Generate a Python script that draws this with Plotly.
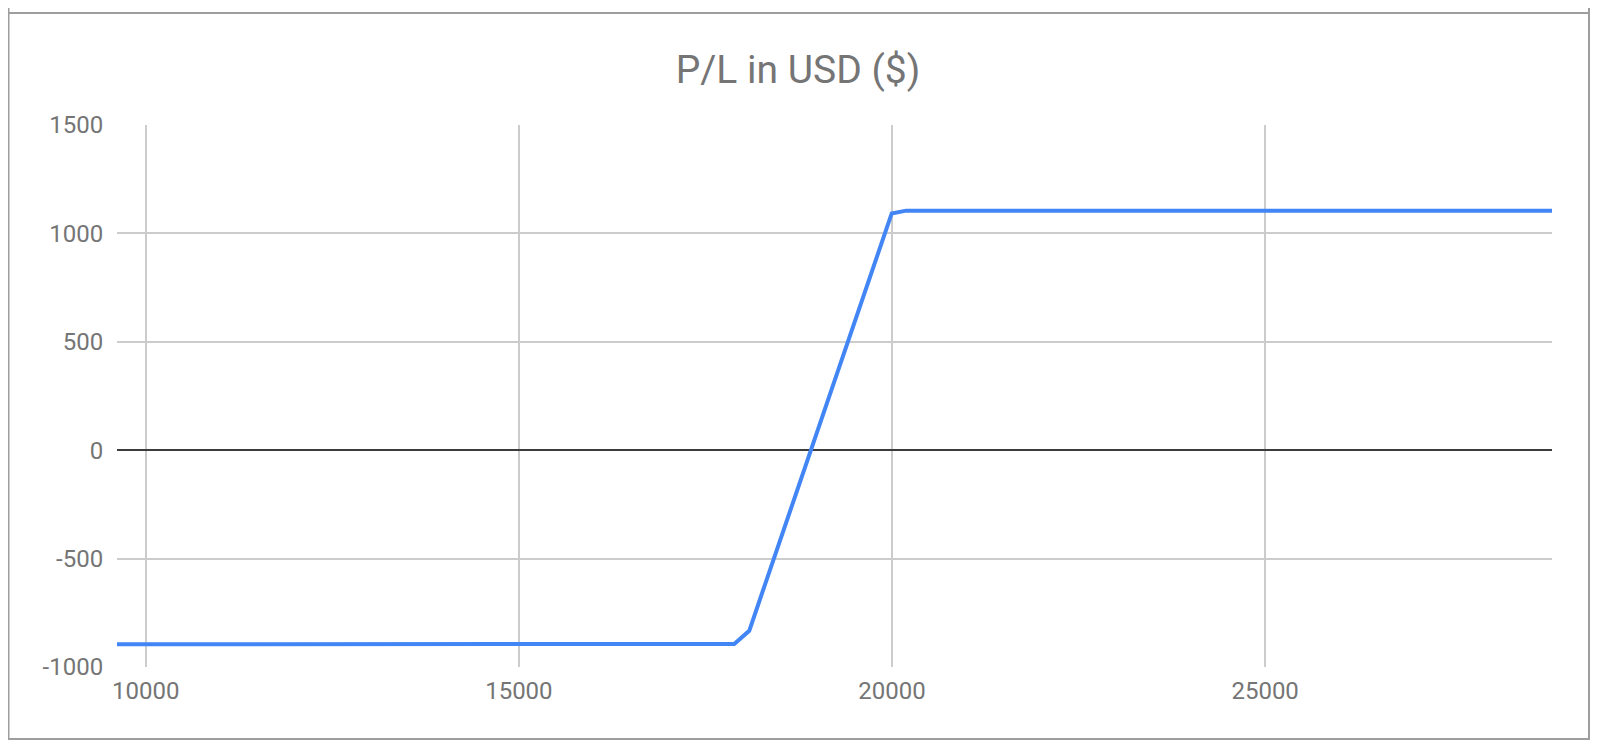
import plotly.graph_objects as go

# Data
price = [9615, 17886, 18087, 19996, 20188, 28844]
pnl = [-895, -894, -833, 1092, 1105, 1105]
x_ticks = [10000, 15000, 20000, 25000]
y_ticks = [-1000, -500, 0, 500, 1000, 1500]
title_text = "P/L in USD ($)"

OFF = 8  # browser default body margin
W, H = 1600 - OFF, 748 - OFF
L, R, T, B = 117 - OFF, 48, 125 - OFF, 81
pw, ph = W - L - R, H - T - B

def px2paper_x(px):
    return (px - OFF - L) / pw

def px2paper_y(py):
    return (H - B - (py - OFF)) / ph

font_color = "#757575"
grid_color = "#cccccc"
frame_color = "#9e9e9e"

fig = go.Figure()
fig.add_trace(go.Scatter(
    x=price, y=pnl, mode="lines",
    line=dict(color="#4285f4", width=4),
    showlegend=False, hoverinfo="x+y",
))

fig.update_layout(
    width=W, height=H,
    margin=dict(l=L, r=R, t=T, b=B, pad=0),
    paper_bgcolor="white", plot_bgcolor="white",
    font=dict(family="Roboto", color=font_color, size=24),
    title=dict(text=title_text, x=(798 - OFF) / W, xanchor="center", xref="container",
               y=1 - (69 - OFF) / H, yanchor="middle", yref="container",
               font=dict(family="Roboto", size=39, color=font_color)),
    xaxis=dict(
        range=[min(price), max(price)], tickvals=x_ticks,
        ticktext=[str(v) for v in x_ticks],
        showgrid=True, gridcolor=grid_color, gridwidth=2,
        zeroline=False, showline=False,
        ticks="outside", ticklen=2, tickcolor="rgba(0,0,0,0)",
        tickfont=dict(size=24, color=font_color),
    ),
    yaxis=dict(
        range=[-1000, 1500], tickvals=y_ticks,
        ticktext=[str(v) for v in y_ticks],
        showgrid=True, gridcolor=grid_color, gridwidth=2,
        zeroline=True, zerolinecolor="#3c3c3c", zerolinewidth=2,
        showline=False,
        ticks="outside", ticklen=8, tickcolor="rgba(0,0,0,0)",
        tickfont=dict(size=24, color=font_color),
    ),
)

fig.add_shape(
    type="rect", xref="paper", yref="paper",
    x0=px2paper_x(8.5), x1=px2paper_x(1589),
    y0=px2paper_y(739), y1=px2paper_y(13),
    line=dict(color=frame_color, width=2), fillcolor="rgba(0,0,0,0)",
    layer="below",
)
# side edges of the frame continue to the top of the picture
for xp in (8.5, 1589):
    fig.add_shape(
        type="line", xref="paper", yref="paper",
        x0=px2paper_x(xp), x1=px2paper_x(xp),
        y0=px2paper_y(13), y1=px2paper_y(0),
        line=dict(color=frame_color, width=2), layer="below",
    )

fig.write_html("out.html")
